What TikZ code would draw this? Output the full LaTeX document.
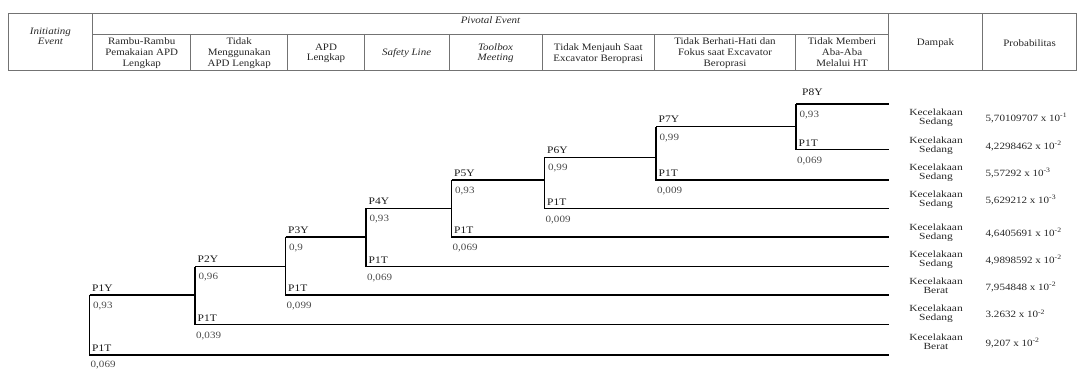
\documentclass[tikz,border=0pt]{standalone}
\usepackage{fontspec}
\setmainfont{Liberation Serif}
\usepackage{graphicx}
\newcommand{\myst}[2][1.12]{\scalebox{#1}[1]{#2}}
\newcommand{\mycell}[2][1.12]{\scalebox{#1}[1]{\begin{tabular}{@{}c@{}}#2\end{tabular}}}
\begin{document}
\begin{tikzpicture}[x=1pt,y=-1pt,
  grid/.style={draw=black!55, line width=0.8pt},
  tree/.style={draw=black, line width=1.4pt},
  hd/.style={inner sep=0pt, font=\fontsize{9.8}{10.7}\selectfont, text=black!85},
  lab/.style={inner sep=0pt, anchor=west, font=\fontsize{10}{11}\selectfont, text=black!90},
  prb/.style={inner sep=0pt, anchor=west, font=\fontsize{9.6}{11}\selectfont, text=black!70},
  dmp/.style={inner sep=0pt, font=\fontsize{9.4}{9.6}\selectfont, text=black!85},
  pro/.style={inner sep=0pt, anchor=west, font=\fontsize{9.6}{11}\selectfont, text=black!85}]
\useasboundingbox (0,0) rectangle (1078,369);
% ---------- header table ----------
\draw[grid] (8,13.3) rectangle (1076.5,70.7);
\draw[grid] (92.7,34) -- (888.3,34);
\foreach \x in {92.7,888.3,982.7} \draw[grid] (\x,13.3) -- (\x,70.7);
\foreach \x in {190.7,287.7,364.3,449,542.3,654.3,795.7} \draw[grid] (\x,34) -- (\x,70.7);
\node[hd] (hinit) at (50.4,37.5) {\mycell{\itshape Initiating\\\itshape Event}};
\node[hd] (hpiv) at (490.5,20.5) {\myst{\itshape Pivotal Event}};
\node[hd] (h1) at (141.7,53.5) {\mycell{Rambu-Rambu\\Pemakaian APD\\Lengkap}};
\node[hd] (h2) at (239.2,53.5) {\mycell{Tidak\\Menggunakan\\APD Lengkap}};
\node[hd] (h3) at (326,53.5) {\mycell{APD\\Lengkap}};
\node[hd] (h4) at (406.6,53) {\myst{\itshape Safety Line}};
\node[hd] (h5) at (495.6,53.5) {\mycell{\itshape Toolbox\\\itshape Meeting}};
\node[hd] (h6) at (598.3,54) {\mycell{Tidak Menjauh Saat\\Excavator Beroprasi}};
\node[hd] (h7) at (725,53.5) {\mycell{Tidak Berhati-Hati dan\\Fokus saat Excavator\\Beroprasi}};
\node[hd] (h8) at (842,53.5) {\mycell{Tidak Memberi\\Aba-Aba\\Melalui HT}};
\node[hd] (hd) at (935.5,43) {\myst{Dampak}};
\node[hd] (hp) at (1029.6,43) {\myst{Probabilitas}};
% ---------- event tree ----------
\foreach \i/\x/\yt/\yb/\pa/\pb/\lx/\ly/\by in {
  1/89.5/295/355/{0,93}/{0,069}/2.5/-7/10.5,
  2/195/266.5/324.3/{0,96}/{0,039}/2.5/-7/11.5,
  3/285.5/236.8/295/{0,9}/{0,099}/2.5/-7/11.5,
  4/366/208.3/266.5/{0,93}/{0,069}/2.5/-7/11.5,
  5/451.5/180/237/{0,93}/{0,069}/2.5/-7/11.5,
  6/544.5/157.3/208.3/{0,99}/{0,009}/2.5/-7/11.5,
  7/656/126.7/180/{0,99}/{0,009}/2.5/-7/11.5,
  8/796/104/149.3/{0,93}/{0,069}/6/-12/11.5}
{
  \coordinate (v\i t) at (\x,\yt);
  \coordinate (v\i b) at (\x,\yb);
  \coordinate (e\i b) at (889,\yb);
  \draw[tree] (v\i t) -- (v\i b) -- (e\i b);
  \node[lab] (ly\i) at (\x+\lx,\yt+\ly) {\myst[1.15]{P\i Y}};
  \node[prb] (py\i) at (\x+3.5,\yt+11) {\myst[1.15]{\pa}};
  \node[lab] (lt\i) at (\x+2.5,\yb-6.5) {\myst[1.15]{P1T}};
  \node[prb] (pt\i) at (\x+1,\yb+\by) {\myst[1.15]{\pb}};
}
\foreach \i/\j in {1/2,2/3,3/4,4/5,5/6,6/7,7/8}
  \draw[tree] (v\i t) -- (v\j t |- v\i t);
\coordinate (e8t) at (889,104);
\draw[tree] (v8t) -- (e8t);
% ---------- outcomes ----------
\foreach \n/\y/\d/\p in {
  1/118/Sedang/{5,70109707 x 10\textsuperscript{-1}},
  2/146/Sedang/{4,2298462 x 10\textsuperscript{-2}},
  3/173/Sedang/{5,57292 x 10\textsuperscript{-3}},
  4/200/Sedang/{5,629212 x 10\textsuperscript{-3}},
  5/233/Sedang/{4,6405691 x 10\textsuperscript{-2}},
  6/260/Sedang/{4,9898592 x 10\textsuperscript{-2}},
  7/287/Berat/{7,954848 x 10\textsuperscript{-2}},
  8/314/Sedang/{3.2632 x 10\textsuperscript{-2}},
  9/343/Berat/{9,207 x 10\textsuperscript{-2}}}
{
  \node[dmp] (d\n) at (936,\y) {\mycell[1.22]{Kecelakaan\\\d}};
  \node[pro] (q\n) at (985.5,\y) {\myst[1.15]{\p}};
}
\end{tikzpicture}
\end{document}
